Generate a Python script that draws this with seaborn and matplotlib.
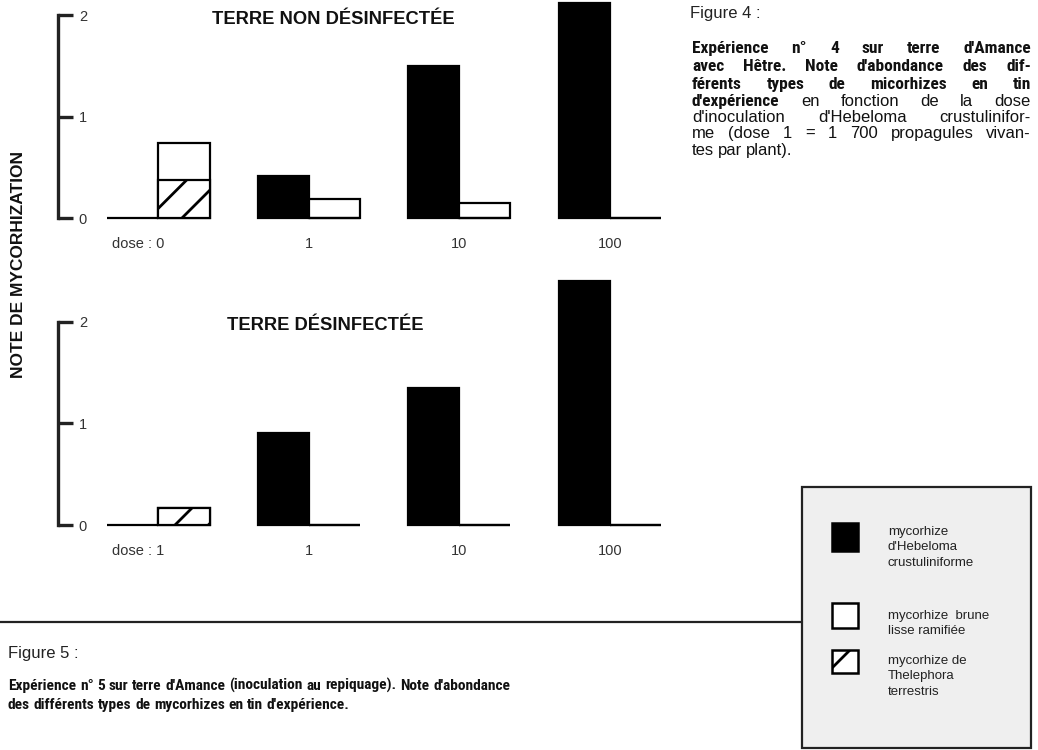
import os
import pandas as pd
import numpy as np
import matplotlib
matplotlib.use("Agg")
import matplotlib.pyplot as plt
import matplotlib.transforms as mtransforms
from matplotlib.patches import Rectangle
from matplotlib import font_manager as fm
import seaborn as sns

# ── Data ──────────────────────────────────────────────────────
doses = ["0", "1", "10", "100"]
types = ["Hebeloma", "brune"]

# Fig. 4 : terre non désinfectée
top_hebeloma = [0.0, 0.41, 1.50, 2.12]
top_brune = [0.37, 0.19, 0.15, 0.0]
top_thele = [0.37, 0.0, 0.0, 0.0]
top_labels = ["dose : 0", "1", "10", "100"]

# Fig. 5 : terre désinfectée
bot_hebeloma = [0.0, 0.91, 1.35, 2.40]
bot_brune = [0.0, 0.0, 0.0, 0.0]
bot_thele = [0.17, 0.0, 0.0, 0.0]
bot_labels = ["dose : 1", "1", "10", "100"]

yticks = [0, 1, 2]

# ── Style ─────────────────────────────────────────────────────
sns.set_style("white")
plt.rcParams["font.family"] = ["Liberation Sans", "DejaVu Sans"]
plt.rcParams["hatch.linewidth"] = 2.0
plt.rcParams["hatch.color"] = "black"


def pick_condensed(bold):
    skip = ("italic", "oblique", "semi", "extra", "light", "black", "medium", "thin")
    cands = []
    for f in fm.fontManager.ttflist:
        b = os.path.basename(f.fname).lower()
        if ("narrow" in b or "condensed" in b) and not any(s in b for s in skip):
            if bold == ("bold" in b):
                cands.append(f.fname)
    order = ["liberationsansnarrow", "robotocondensed", "notosans-condensed",
             "dejavusanscondensed", "opensans"]
    cands.sort(key=lambda p: next((i for i, k in enumerate(order)
                                   if k in os.path.basename(p).lower()), 99))
    return cands[0] if cands else None


COND_BOLD = pick_condensed(True)


def fprops(bold, size):
    if bold and COND_BOLD:
        return fm.FontProperties(fname=COND_BOLD, size=size)
    return fm.FontProperties(family=["Liberation Sans", "DejaVu Sans"],
                             weight="bold" if bold else "normal", size=size)


W, H = 1038, 750
fig = plt.figure(figsize=(W / 100, H / 100), dpi=100)


def fx(x):
    return x / W


def fy(y):
    return 1 - y / H


def panel(rect, heb, brune, thele, labels, ylim):
    ax = fig.add_axes(rect)
    df = pd.DataFrame({
        "dose": doses * 2,
        "type": [types[0]] * 4 + [types[1]] * 4,
        "value": list(heb) + [b + t for b, t in zip(brune, thele)],
    })
    sns.barplot(data=df, x="dose", y="value", hue="type", order=doses,
                hue_order=types, palette={"Hebeloma": "black", "brune": "white"},
                edgecolor="black", linewidth=1.6, width=0.68, legend=False,
                errorbar=None, ax=ax)
    # hatched Thelephora stacked under the white bar
    w = 0.34
    xpos = np.arange(len(doses)) + w / 2
    ax.bar(xpos, thele, width=w, color="white", edgecolor="black",
           linewidth=1.6, hatch="/")
    for p in ax.patches:
        p.set_clip_on(False)
    ax.set_xlim(-0.667, 3.5)
    ax.set_ylim(*ylim)
    sns.despine(ax=ax, bottom=True)
    ax.spines["left"].set_bounds(0, 2)
    ax.spines["left"].set_linewidth(2.4)
    ax.spines["left"].set_color("#222222")
    ax.set_yticks(yticks)
    ax.tick_params(axis="y", left=True, direction="in", length=11, width=2.4,
                   color="#222222", pad=-15, labelsize=10.5, labelcolor="#333333")
    for lab in ax.get_yticklabels():
        lab.set_ha("left")
    ax.set_xticks(range(len(doses)))
    ax.set_xticklabels(labels, fontsize=10.5, color="#333333")
    ax.tick_params(axis="x", bottom=False, length=0, pad=9)
    first = ax.get_xticklabels()[0]
    first.set_transform(first.get_transform()
                        + mtransforms.ScaledTranslation(-0.2, 0, fig.dpi_scale_trans))
    ax.set_xlabel("")
    ax.set_ylabel("")
    ax.patch.set_alpha(0)
    return ax


# 0 at y=218px / 525px, 1 unit = 101.5 px; spine x=58px, group step 150px
panel([fx(58), fy(224.1), fx(627), 223.3 / H],
      top_hebeloma, top_brune, top_thele, top_labels, (-0.06, 2.14))
panel([fx(58), fy(531.1), fx(627), 254.8 / H],
      bot_hebeloma, bot_brune, bot_thele, bot_labels, (-0.06, 2.45))

fig.text(fx(333), fy(20), "TERRE NON DÉSINFECTÉE", fontsize=13.2,
         fontweight="bold", ha="center", va="center", color="#111111")
fig.text(fx(325), fy(325), "TERRE DÉSINFECTÉE", fontsize=13.2,
         fontweight="bold", ha="center", va="center", color="#111111")
fig.text(fx(19), fy(264), "NOTE DE MYCORHIZATION", fontsize=12.5,
         fontweight="bold", rotation=90, ha="center", va="center", color="#111111")

# ── Captions (justified) ──────────────────────────────────────
renderer = fig.canvas.get_renderer()


def line(words, x0, x1, y, size_b, size_r, justify=True, scale=None):
    fixed = scale is not None
    scale = scale or 1.0
    while True:
        arts = [fig.text(0, fy(y), txt, va="baseline", color="#111111",
                         fontproperties=fprops(bold, (size_b if bold else size_r) * scale))
                for txt, bold in words]
        widths = [a.get_window_extent(renderer).width for a in arts]
        mingap = 0.24 * size_r * scale * 100 / 72
        if fixed or sum(widths) + mingap * (len(arts) - 1) <= (x1 - x0) or scale < 0.6:
            break
        for a in arts:
            a.remove()
        scale *= 0.98
    if justify and len(arts) > 1:
        gap = (x1 - x0 - sum(widths)) / (len(arts) - 1)
    else:
        gap = mingap
    x = x0
    for a, wd in zip(arts, widths):
        a.set_x(fx(x))
        x += wd + gap
    return scale


def words(s, bold):
    return [(w, bold) for w in s.split(" ")]


fig.text(fx(690), fy(18), "Figure 4 :", fontsize=12, va="baseline", color="#222222")
X0, X1 = 692, 1031
line(words("Expérience n° 4 sur terre d'Amance", True), X0, X1, 53, 12.5, 12)
line(words("avec Hêtre. Note d'abondance des dif-", True), X0, X1, 71, 12.5, 12)
line(words("férents types de micorhizes en tin", True), X0, X1, 89, 12.5, 12)
line([("d'expérience", True)] + words("en fonction de la dose", False),
     X0, X1, 106, 12.5, 12)
line(words("d'inoculation d'Hebeloma crustulinifor-", False), X0, X1, 122, 12.5, 12)
line(words("me (dose 1 = 1 700 propagules vivan-", False), X0, X1, 138, 12.5, 12)
line(words("tes par plant).", False), X0, X1, 155, 12.5, 12, justify=False)

fig.text(fx(8), fy(658), "Figure 5 :", fontsize=12, va="baseline", color="#222222")
s5 = line(words("Expérience n° 5 sur terre d'Amance (inoculation au repiquage). Note d'abondance", True),
          8, 510, 690, 12.5, 12)
line(words("des différents types de mycorhizes en tin d'expérience.", True),
     8, 510, 709, 12.5, 12, justify=False, scale=s5)

# separator line
fig.add_artist(plt.Line2D([0, fx(802)], [fy(622), fy(622)], color="#222222", linewidth=1.6))

# ── Legend box ────────────────────────────────────────────────
fig.add_artist(Rectangle((fx(802), fy(748)), fx(1031 - 802), (748 - 487) / H,
                         facecolor="#efefef", edgecolor="#222222", linewidth=1.6))
legend_items = [
    ("black", None, "mycorhize\nd'Hebeloma\ncrustuliniforme", 523, 551, 526),
    ("white", None, "mycorhize  brune\nlisse ramifiée", 603, 628, 610),
    ("white", "/", "mycorhize de\nThelephora\nterrestris", 650, 673, 655),
]
for fc, hatch, txt, y0, y1, ty in legend_items:
    fig.add_artist(Rectangle((fx(832), fy(y1)), fx(26), (y1 - y0) / H,
                             facecolor=fc, edgecolor="black", linewidth=1.8,
                             hatch=hatch))
    fig.text(fx(888), fy(ty), txt, fontsize=9.5, va="top", ha="left",
             linespacing=1.38, color="#222222")

fig.savefig("out.png", dpi=100)
